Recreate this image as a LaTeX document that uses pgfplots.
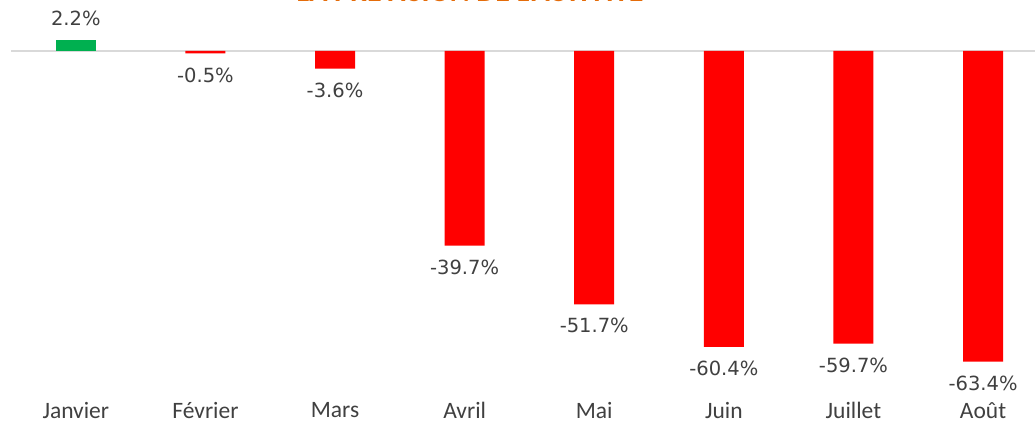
\documentclass[border=0pt]{standalone}
\usepackage{fontspec}
\setmainfont{Carlito}
\newfontfamily\labfont{DejaVu Sans}
\usepackage{pgfplots}
\pgfplotsset{compat=1.18}
\definecolor{barred}{HTML}{FF0000}
\definecolor{bargreen}{HTML}{00B050}
\definecolor{txtgray}{HTML}{404040}
\definecolor{titleorange}{HTML}{E46C0A}
\begin{document}
\begin{tikzpicture}
\useasboundingbox (-11pt,-24pt) rectangle (1024pt,403pt);
\begin{axis}[
  scale only axis,
  width=1024pt, height=403pt,
  xmin=-0.5, xmax=7.4,
  ymin=-71.84, ymax=10.41,
  axis line style={draw=none},
  ytick=\empty,
  xtick={0,1,2,3,4,5,6,7},
  xticklabels={Janvier,Février,Mars,Avril,Mai,Juin,Juillet,Août},
  major tick length=0pt,
  xticklabel style={font=\fontsize{23.5}{25}\selectfont, text=txtgray, inner sep=0pt, yshift=1pt},
  extra y ticks={0},
  extra y tick labels={},
  extra y tick style={grid=major, major grid style={draw=black!15, line width=1.5pt}},
  clip=false,
  ybar, bar width=40pt,
  point meta=explicit symbolic,
  nodes near coords,
  every node near coord/.append style={font=\labfont\fontsize{19.5}{21}\selectfont, text=txtgray, inner sep=0pt},
]
\addplot[fill=bargreen, draw=none, bar shift=0pt,
  every node near coord/.append style={anchor=south, yshift=14pt}] coordinates {(0,2.2) [2.2\%]};
\addplot[fill=barred, draw=none, bar shift=0pt,
  every node near coord/.append style={anchor=north, yshift=-14pt}] coordinates {
  (1,-0.5) [-0.5\%]
  (2,-3.6) [-3.6\%]
  (3,-39.7) [-39.7\%]
  (4,-51.7) [-51.7\%]
  (5,-60.4) [-60.4\%]
  (6,-59.7) [-59.7\%]
  (7,-63.4) [-63.4\%]
};
\end{axis}
\node[anchor=base, text=titleorange, font=\bfseries\fontsize{30}{32}\selectfont, inner sep=0pt] at (459pt,401pt) {LA PRÉVISION DE L'ACTIVITÉ};
\end{tikzpicture}
\end{document}
